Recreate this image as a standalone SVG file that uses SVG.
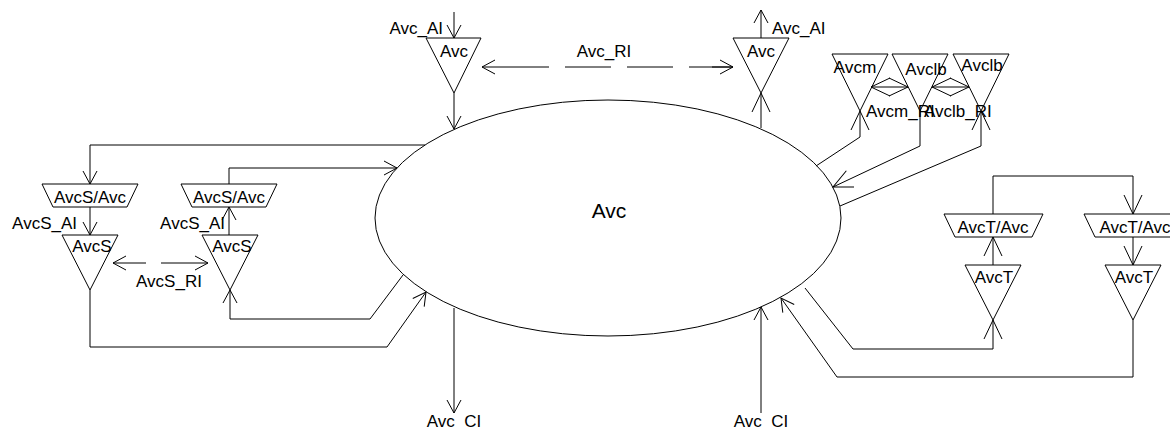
<svg xmlns="http://www.w3.org/2000/svg" width="1170" height="427" viewBox="0 0 1170 427">
<style>
.s{fill:none;stroke:#000;stroke-width:1}
.n{fill:#fff;stroke:#000;stroke-width:1}
text{font-family:"Liberation Sans",Arial,sans-serif;font-size:17px;fill:#000}
.c{text-anchor:middle}
.e{text-anchor:end}
</style>
<defs>
<marker id="a" markerUnits="userSpaceOnUse" markerWidth="16" markerHeight="16" viewBox="0 -8 16 16" refX="14" refY="0" orient="auto-start-reverse" overflow="visible">
<path d="M1,-7 L14,0 L1,7" fill="none" stroke="#000" stroke-width="1"/>
</marker>
<marker id="b" markerUnits="userSpaceOnUse" markerWidth="22" markerHeight="22" viewBox="0 -11 22 22" refX="20" refY="0" orient="auto-start-reverse" overflow="visible">
<path d="M1,-9 L20,0 L1,9" fill="none" stroke="#000" stroke-width="1"/>
</marker>
</defs>
<g id="avc-main"><ellipse class="n" cx="608" cy="218" rx="233" ry="118"/><text x="609" y="218" class="c" style="font-size:21px">Avc</text></g>
<g id="avc-top-left"><polygon class="n" points="426,38 481,38 454,93"/><text x="454" y="57" class="c">Avc</text></g>
<g id="avc-top-right"><polygon class="n" points="733,38 789,38 761,93"/><text x="761" y="57" class="c">Avc</text></g>
<g id="avcm"><polygon class="s" points="832,54 888,54 860,111"/><text x="855" y="73" class="c" textLength="43" lengthAdjust="spacingAndGlyphs">Avcm</text></g>
<g id="avclb1"><polygon class="s" points="892,54 948,54 920,111"/><text x="926" y="75" class="c">Avclb</text></g>
<g id="avclb2"><polygon class="s" points="953,54 1009,54 981,111"/><text x="982" y="71" class="c">Avclb</text></g>
<g id="avcs-avc-1"><polygon class="n" points="42,184 138,184 127,207 53,207"/><text x="90" y="203" class="c">AvcS/Avc</text></g>
<g id="avcs-avc-2"><polygon class="n" points="181,184 277,184 266,207 192,207"/><text x="229" y="203" class="c">AvcS/Avc</text></g>
<g id="avcs-1"><polygon class="s" points="62,235 118,235 90,290"/><text x="92" y="252" class="c">AvcS</text></g>
<g id="avcs-2"><polygon class="s" points="202,235 258,235 230,290"/><text x="232" y="252" class="c">AvcS</text></g>
<g id="avct-avc-1"><polygon class="n" points="944,214 1043,214 1032,237 955,237"/><text x="993" y="233" class="c">AvcT/Avc</text></g>
<g id="avct-avc-2"><polygon class="n" points="1084,214 1183,214 1172,237 1095,237"/><text x="1135" y="233" class="c">AvcT/Avc</text></g>
<g id="avct-1"><polygon class="s" points="965,265 1021,265 993,320"/><text x="994" y="283" class="c">AvcT</text></g>
<g id="avct-2"><polygon class="s" points="1105,265 1161,265 1133,320"/><text x="1134" y="283" class="c">AvcT</text></g>
<g id="connectors">
<path class="s" d="M454,12 L454,38" marker-end="url(#a)"/>
<path class="s" d="M454,93 L454,129" marker-end="url(#a)"/>
<path class="s" d="M761,38 L761,10" marker-end="url(#a)"/>
<path class="s" d="M761,128 L761,93" marker-end="url(#b)"/>
<path class="s" d="M503,67 L482,67" marker-end="url(#a)"/>
<path class="s" d="M712,67 L733,67" marker-end="url(#a)"/>
<path class="s" d="M503,67 L733,67" stroke-dasharray="46 16"/>
<path class="s" d="M871,87 L908,87" marker-start="url(#b)" marker-end="url(#b)"/>
<path class="s" d="M932,87 L969,87" marker-start="url(#b)" marker-end="url(#b)"/>
<path class="s" d="M816,166 L860,137 L860,111" marker-end="url(#b)"/>
<path class="s" d="M920,111 L920,146 L833,187" marker-end="url(#b)"/>
<path class="s" d="M840,206 L981,146 L981,111" marker-end="url(#b)"/>
<path class="s" d="M425,145 L90,145 L90,184" marker-end="url(#a)"/>
<path class="s" d="M229,184 L229,168 L397,168" marker-end="url(#a)"/>
<path class="s" d="M90,207 L90,235" marker-end="url(#a)"/>
<path class="s" d="M229,235 L229,207" marker-end="url(#a)"/>
<path class="s" d="M90,290 L90,347 L387,347 L426,292" marker-end="url(#a)"/>
<path class="s" d="M403,275 L370,319 L230,319 L230,290" marker-end="url(#a)"/>
<path class="s" d="M146,263 L113,263" marker-end="url(#a)"/>
<path class="s" d="M161,263 L208,263" marker-end="url(#a)"/>
<path class="s" d="M993,214 L993,176 L1133,176 L1133,214" marker-end="url(#b)"/>
<path class="s" d="M993,265 L993,237" marker-end="url(#b)"/>
<path class="s" d="M1133,237 L1133,265" marker-end="url(#b)"/>
<path class="s" d="M805,288 L853,349 L993,349 L993,320" marker-end="url(#b)"/>
<path class="s" d="M1133,320 L1133,377 L837,377 L781,298" marker-end="url(#a)"/>
<path class="s" d="M454,308 L454,413" marker-end="url(#a)"/>
<path class="s" d="M761,413 L761,307" marker-end="url(#a)"/>
</g>
<g id="labels">
<text x="443" y="34" class="e">Avc_AI</text>
<text x="772" y="34">Avc_AI</text>
<text x="604" y="57" class="c">Avc_RI</text>
<text x="866" y="117">Avcm_RI</text>
<text x="924" y="117">Avclb_RI</text>
<text x="77" y="229" class="e">AvcS_AI</text>
<text x="225" y="229" class="e">AvcS_AI</text>
<text x="169" y="287" class="c">AvcS_RI</text>
<text x="454" y="427" class="c">Avc_CI</text>
<text x="761" y="427" class="c">Avc_CI</text>
</g>
</svg>
